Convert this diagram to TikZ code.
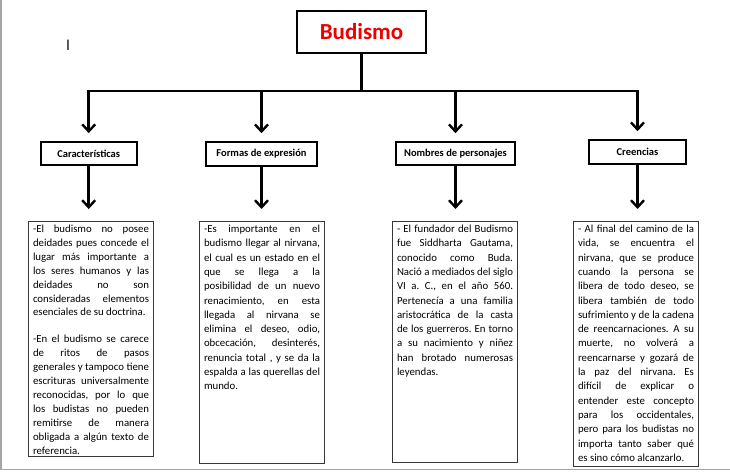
\documentclass[tikz,border=0pt]{standalone}
\usepackage{fontspec}
\setmainfont{Carlito}
\usetikzlibrary{arrows.meta}
\definecolor{titlered}{RGB}{236,0,0}
\definecolor{bordergray}{RGB}{55,55,55}
\definecolor{framegray}{RGB}{165,165,165}
\newcommand{\bodyset}[2]{\fontsize{#1}{#2}\selectfont\frenchspacing\spaceskip=.226em plus .6em minus .12em\relax}
\begin{document}
\begin{tikzpicture}[x=1pt,y=-1pt,
  conn/.style={line width=2.6pt},
  arr/.style={line width=2.6pt,-{Straight Barb[length=7pt,width=13pt,line width=2.4pt]}},
  hbox/.style={draw,line width=1.6pt,inner sep=0pt,font=\bfseries\fontsize{10.5}{12}\selectfont},
  tbox/.style={draw=bordergray,line width=1pt,inner xsep=4.5pt,inner ysep=3.5pt,anchor=north west}
]
\useasboundingbox (0,0) rectangle (730,473);
\fill[white] (0,0) rectangle (730,473);
\draw[framegray,line width=1.8pt] (1,0) -- (1,469.5) -- (730,469.5);

\node (cursor) at (68,45) {\fontsize{15}{15}\selectfont l};

\node[hbox,minimum width=129pt,minimum height=42pt,font=\bfseries\fontsize{23}{26}\selectfont,text=titlered] (bud) at (361.5,32) {Budismo};

\node[hbox,minimum width=96pt,minimum height=23pt] (c1) at (88.7,153.4) {Características};
\node[hbox,minimum width=111pt,minimum height=24pt] (c2) at (261.5,154) {Formas de expresión};
\node[hbox,minimum width=119pt,minimum height=23pt] (c3) at (455.5,153.5) {Nombres de personajes};
\node[hbox,minimum width=97pt,minimum height=24pt] (c4) at (637.5,152) {Creencias};

\coordinate (bus) at (0,91);
\draw[conn] (bud.south) -- (bud.south |- bus);
\draw[arr] (bud.south |- bus) -| ([yshift=8pt]c1.north);
\draw[arr] (bud.south |- bus) -| ([yshift=8pt]c4.north);
\draw[arr] (c2.north |- bus) -- ([yshift=8pt]c2.north);
\draw[arr] (c3.north |- bus) -- ([yshift=8pt]c3.north);

\node[tbox] (t1) at (28,221) {\parbox[c][228pt][t]{116pt}{\bodyset{10.8}{13.9}\setlength{\parskip}{13pt}%
-El budismo no posee\linebreak
deidades pues concede el\linebreak
lugar más importante a\linebreak
los seres humanos y las\linebreak
deidades no son\linebreak
consideradas elementos\linebreak
esenciales de su doctrina.

-En el budismo se carece\linebreak
de ritos de pasos\linebreak
generales y tampoco tiene\linebreak
escrituras universalmente\linebreak
reconocidas, por lo que\linebreak
los budistas no pueden\linebreak
remitirse de manera\linebreak
obligada a algún texto de\linebreak
referencia.}};

\node[tbox] (t2) at (199,221) {\parbox[c][235pt][t]{116pt}{\bodyset{10.8}{14.3}%
-Es importante en el\linebreak
budismo llegar al nirvana,\linebreak
el cual es un estado en el\linebreak
que se llega a la\linebreak
posibilidad de un nuevo\linebreak
renacimiento, en esta\linebreak
llegada al nirvana se\linebreak
elimina el deseo, odio,\linebreak
obcecación, desinterés,\linebreak
renuncia total , y se da la\linebreak
espalda a las querellas del\linebreak
mundo.}};

\node[tbox] (t3) at (392,221) {\parbox[c][234pt][t]{116pt}{\bodyset{10.8}{14.3}%
- El fundador del Budismo\linebreak
fue Siddharta Gautama,\linebreak
conocido como Buda.\linebreak
Nació a mediados del siglo\linebreak
VI a. C., en el año 560.\linebreak
Pertenecía a una familia\linebreak
aristocrática de la casta\linebreak
de los guerreros. En torno\linebreak
a su nacimiento y niñez\linebreak
han brotado numerosas\linebreak
leyendas.}};

\node[tbox] (t4) at (573,221) {\parbox[c][238pt][t]{116pt}{\bodyset{10.8}{14.3}%
- Al final del camino de la\linebreak
vida, se encuentra el\linebreak
nirvana, que se produce\linebreak
cuando la persona se\linebreak
libera de todo deseo, se\linebreak
libera también de todo\linebreak
sufrimiento y de la cadena\linebreak
de reencarnaciones. A su\linebreak
muerte, no volverá a\linebreak
reencarnarse y gozará de\linebreak
la paz del nirvana. Es\linebreak
difícil de explicar o\linebreak
entender este concepto\linebreak
para los occidentales,\linebreak
pero para los budistas no\linebreak
importa tanto saber qué\linebreak
es sino cómo alcanzarlo.}};

\draw[arr,shorten >=12pt] (c1.south) -- (c1.south |- t1.north);
\draw[arr,shorten >=12pt] (c2.south) -- (c2.south |- t2.north);
\draw[arr,shorten >=12pt] (c3.south) -- (c3.south |- t3.north);
\draw[arr,shorten >=12pt] (c4.south) -- (c4.south |- t4.north);
\end{tikzpicture}
\end{document}
